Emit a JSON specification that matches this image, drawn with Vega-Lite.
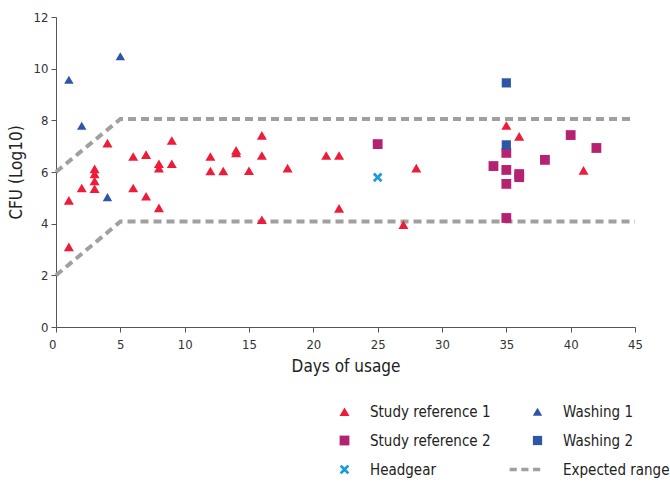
{
  "$schema": "https://vega.github.io/schema/vega-lite/v6.json",
  "width": 579,
  "height": 310,
  "autosize": {"type": "none"},
  "padding": {"left": 56, "top": 17, "right": 35, "bottom": 156},
  "config": {
    "view": {"stroke": null},
    "font": "DejaVu Sans Condensed, sans-serif",
    "axis": {
      "domainColor": "#555555",
      "tickColor": "#555555",
      "labelColor": "#333333",
      "titleColor": "#222222",
      "labelFontSize": 13,
      "titleFontSize": 17,
      "titleFontWeight": "normal",
      "tickSize": 5,
      "grid": false,
      "labelFont": "DejaVu Sans Condensed, sans-serif",
      "titleFont": "DejaVu Sans Condensed, sans-serif"
    },
    "legend": {
      "labelFont": "DejaVu Sans Condensed, sans-serif",
      "labelFontSize": 15,
      "labelColor": "#222222"
    }
  },
  "datasets": {
    "points": [
      {"day": 1, "cfu": 3.1, "series": "Study reference 1"},
      {"day": 1, "cfu": 4.9, "series": "Study reference 1"},
      {"day": 2, "cfu": 5.38, "series": "Study reference 1"},
      {"day": 3, "cfu": 6.12, "series": "Study reference 1"},
      {"day": 3, "cfu": 5.93, "series": "Study reference 1"},
      {"day": 3, "cfu": 5.65, "series": "Study reference 1"},
      {"day": 3, "cfu": 5.35, "series": "Study reference 1"},
      {"day": 4, "cfu": 7.12, "series": "Study reference 1"},
      {"day": 6, "cfu": 5.38, "series": "Study reference 1"},
      {"day": 6, "cfu": 6.6, "series": "Study reference 1"},
      {"day": 7, "cfu": 6.67, "series": "Study reference 1"},
      {"day": 7, "cfu": 5.06, "series": "Study reference 1"},
      {"day": 8, "cfu": 4.61, "series": "Study reference 1"},
      {"day": 8, "cfu": 6.32, "series": "Study reference 1"},
      {"day": 8, "cfu": 6.15, "series": "Study reference 1"},
      {"day": 9, "cfu": 7.22, "series": "Study reference 1"},
      {"day": 9, "cfu": 6.32, "series": "Study reference 1"},
      {"day": 12, "cfu": 6.6, "series": "Study reference 1"},
      {"day": 12, "cfu": 6.04, "series": "Study reference 1"},
      {"day": 13, "cfu": 6.04, "series": "Study reference 1"},
      {"day": 14, "cfu": 6.84, "series": "Study reference 1"},
      {"day": 14, "cfu": 6.74, "series": "Study reference 1"},
      {"day": 15, "cfu": 6.05, "series": "Study reference 1"},
      {"day": 16, "cfu": 7.42, "series": "Study reference 1"},
      {"day": 16, "cfu": 6.64, "series": "Study reference 1"},
      {"day": 16, "cfu": 4.15, "series": "Study reference 1"},
      {"day": 18, "cfu": 6.15, "series": "Study reference 1"},
      {"day": 21, "cfu": 6.64, "series": "Study reference 1"},
      {"day": 22, "cfu": 6.64, "series": "Study reference 1"},
      {"day": 22, "cfu": 4.59, "series": "Study reference 1"},
      {"day": 27, "cfu": 3.96, "series": "Study reference 1"},
      {"day": 28, "cfu": 6.15, "series": "Study reference 1"},
      {"day": 35, "cfu": 7.8, "series": "Study reference 1"},
      {"day": 36, "cfu": 7.38, "series": "Study reference 1"},
      {"day": 41, "cfu": 6.06, "series": "Study reference 1"},
      {"day": 1, "cfu": 9.57, "series": "Washing 1"},
      {"day": 2, "cfu": 7.79, "series": "Washing 1"},
      {"day": 4, "cfu": 5.03, "series": "Washing 1"},
      {"day": 5, "cfu": 10.48, "series": "Washing 1"},
      {"day": 25, "cfu": 7.08, "series": "Study reference 2"},
      {"day": 34, "cfu": 6.23, "series": "Study reference 2"},
      {"day": 35, "cfu": 6.74, "series": "Study reference 2"},
      {"day": 35, "cfu": 6.08, "series": "Study reference 2"},
      {"day": 35, "cfu": 5.54, "series": "Study reference 2"},
      {"day": 35, "cfu": 4.22, "series": "Study reference 2"},
      {"day": 36, "cfu": 5.92, "series": "Study reference 2"},
      {"day": 36, "cfu": 5.8, "series": "Study reference 2"},
      {"day": 38, "cfu": 6.47, "series": "Study reference 2"},
      {"day": 40, "cfu": 7.43, "series": "Study reference 2"},
      {"day": 42, "cfu": 6.93, "series": "Study reference 2"},
      {"day": 35, "cfu": 9.45, "series": "Washing 2"},
      {"day": 35, "cfu": 7.05, "series": "Washing 2"},
      {"day": 25, "cfu": 5.79, "series": "Headgear"}
    ],
    "range": [
      {"day": 0, "cfu": 6, "line": "upper"},
      {"day": 5, "cfu": 8.05, "line": "upper"},
      {"day": 45, "cfu": 8.05, "line": "upper"},
      {"day": 0, "cfu": 2, "line": "lower"},
      {"day": 5, "cfu": 4.08, "line": "lower"},
      {"day": 45, "cfu": 4.08, "line": "lower"}
    ]
  },
  "layer": [
    {
      "data": {"name": "range"},
      "mark": {"type": "line", "strokeDash": [8, 5], "strokeWidth": 4, "color": "#a0a0a0"},
      "encoding": {
        "x": {"field": "day", "type": "quantitative"},
        "y": {"field": "cfu", "type": "quantitative"},
        "detail": {"field": "line"}
      }
    },
    {
      "data": {"name": "points"},
      "mark": {"type": "point", "filled": true, "opacity": 1, "strokeWidth": 0},
      "encoding": {
        "x": {
          "field": "day", "type": "quantitative",
          "scale": {"domain": [0, 45], "nice": false, "zero": false},
          "axis": {
            "title": "Days of usage",
            "values": [0, 5, 10, 15, 20, 25, 30, 35, 40, 45],
            "labelPadding": 6,
            "titlePadding": 7,
            "labelAlign": {"expr": "datum.value == 0 ? 'right' : 'center'"}
          }
        },
        "y": {
          "field": "cfu", "type": "quantitative",
          "scale": {"domain": [0, 12], "nice": false},
          "axis": {
            "title": "CFU (Log10)",
            "values": [0, 2, 4, 6, 8, 10, 12],
            "labelPadding": 3,
            "titlePadding": 8
          }
        },
        "color": {
          "field": "series", "type": "nominal",
          "scale": {
            "domain": ["Study reference 1", "Study reference 2", "Headgear", "Washing 1", "Washing 2", "Expected range"],
            "range": ["#ee1c3b", "#b52272", "#1a9bd7", "#2e56a8", "#2e56a8", "#a0a0a0"]
          },
          "legend": {
            "title": null,
            "orient": "none",
            "legendX": 281,
            "legendY": 387,
            "columns": 2,
            "columnPadding": 18,
            "rowPadding": 13,
            "labelOffset": 18,
            "labelLimit": 200,
            "padding": 0,
            "symbolStrokeWidth": 0,
            "symbolOpacity": 1
          }
        },
        "shape": {
          "field": "series", "type": "nominal",
          "scale": {
            "domain": ["Study reference 1", "Study reference 2", "Headgear", "Washing 1", "Washing 2", "Expected range"],
            "range": [
              "triangle-up", "square",
              "M -1 -0.6 L -0.6 -1 L 0 -0.4 L 0.6 -1 L 1 -0.6 L 0.4 0 L 1 0.6 L 0.6 1 L 0 0.4 L -0.6 1 L -1 0.6 L -0.4 0 Z",
              "triangle-up", "square",
              "M -6.2 -0.4 H -4.6 V 0.4 H -6.2 Z M -3.6 -0.4 H -2 V 0.4 H -3.6 Z M -1 -0.4 H 0.6 V 0.4 H -1 Z"
            ]
          }
        },
        "size": {
          "field": "series", "type": "nominal",
          "scale": {
            "domain": ["Study reference 1", "Study reference 2", "Headgear", "Washing 1", "Washing 2", "Expected range"],
            "range": [100, 81, 50, 100, 81, 100]
          }
        }
      }
    }
  ]
}
